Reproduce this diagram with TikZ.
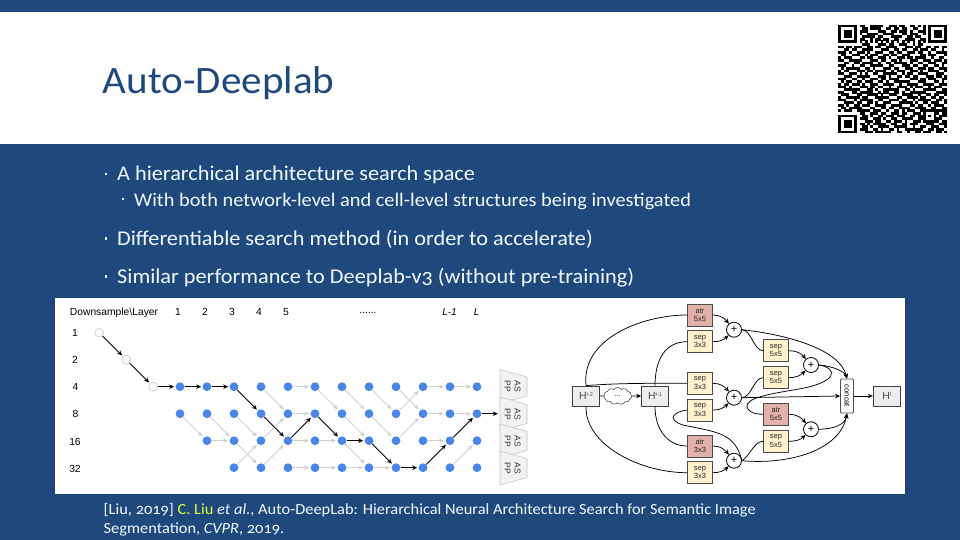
\documentclass[tikz,border=0pt]{standalone}
\usepackage{fontspec}
\usetikzlibrary{arrows.meta,shapes.symbols,shapes.geometric}
\setmainfont{Carlito}[Numbers=OldStyle,FakeStretch=1.06]
\newfontfamily\dgfont{Liberation Sans}
\definecolor{navy}{RGB}{31,73,125}
\definecolor{ptitle}{RGB}{31,73,125}
\definecolor{dotblue}{RGB}{74,134,232}
\definecolor{graylink}{RGB}{208,208,208}
\definecolor{boxpink}{RGB}{226,178,170}
\definecolor{boxyel}{RGB}{255,242,204}
\definecolor{boxgray}{RGB}{238,238,238}
\definecolor{paleT}{RGB}{240,248,255}
\definecolor{citeY}{RGB}{221,255,60}
\newcount\qrx
\def\qrparse#1{\ifx#1\relax\let\qrnext\relax\else\ifx#11\fill[black] ({838.3+2.65*\the\qrx},{24.6+2.65*\qry}) rectangle ({838.3+2.65*\the\qrx+2.7},{24.6+2.65*\qry+2.7});\fi\advance\qrx by 1\let\qrnext\qrparse\fi\qrnext}
\tikzset{
  x=1pt,y=-1pt,
  bodytext/.style={anchor=base west,text=paleT,inner sep=0pt,font=\fontsize{21}{24}\selectfont},
  subtext/.style={anchor=base west,text=paleT,inner sep=0pt,font=\fontsize{19.2}{22}\selectfont},
  citetext/.style={anchor=base west,inner sep=0pt,text=paleT,font=\fontsize{15.45}{17}\selectfont},
  bulletdot/.style={fill=paleT,inner sep=0pt,minimum size=#1},
  gridlbl/.style={anchor=base,font=\dgfont\fontsize{10.3}{11}\selectfont,text=black,inner sep=0pt},
  griditalic/.style={anchor=base,font=\dgfont\itshape\fontsize{10}{11}\selectfont,text=black,inner sep=0pt},
  bluedot/.style={circle,fill=dotblue,inner sep=0pt,minimum size=8.8pt},
  whitedot/.style={circle,fill=white!95!gray,draw=black!20,line width=.6pt,inner sep=0pt,minimum size=9pt},
  glink/.style={draw=graylink,line width=.8pt,shorten >=1.5pt,-{Stealth[length=5pt,width=4.5pt]}},
  klink/.style={draw=black,line width=.9pt,shorten >=1.2pt,-{Stealth[length=5pt,width=4.5pt]}},
  aspp/.style={draw=black!22,fill=black!5,line width=.6pt,line join=round},
  asppt/.style={inner sep=0pt,font=\dgfont\fontsize{8.5}{9}\selectfont,text=black!80},
  opbox/.style={draw=black!70,line width=.9pt,minimum width=25pt,minimum height=22pt,inner sep=0pt,align=center,font=\dgfont\fontsize{7.5}{8.6}\selectfont,text=black!85},
  hbox/.style={draw=black!75,fill=boxgray,line width=.8pt,minimum width=27pt,minimum height=20pt,inner sep=0pt,font=\dgfont\fontsize{10.5}{11}\selectfont,text=black!70},
  plusn/.style={circle,draw=black,fill=white,line width=.8pt,minimum size=15pt,inner sep=0pt,font=\dgfont\fontsize{11}{11}\selectfont},
  curve/.style={draw=black,line width=.75pt},
  arr/.style={curve,-{Stealth[length=5pt,width=4.5pt]}},
}
\begin{document}
\begin{tikzpicture}
\useasboundingbox (0,0) rectangle (960,540);
% bands
\fill[navy] (0,0) rectangle (960,540);
\fill[white] (0,12.5) rectangle (960,144);
\fill[white] (55,298) rectangle (905,493.5);
% title and text
\node[anchor=base west,inner sep=0pt,text=ptitle,font=\fontsize{38.8}{40}\selectfont] (title) at (102.5,93.5) {Auto-Deeplab};
\node[bulletdot=2.6pt] (dot1) at (106,174) {};
\node[bodytext] (t1) at (117,181) {A hierarchical architecture search space};
\node[bulletdot=2pt] (dot2) at (122.7,199) {};
\node[subtext] (t2) at (134,206.5) {With both network-level and cell-level structures being investigated};
\node[bulletdot=2.6pt] (dot3) at (106,238.5) {};
\node[bodytext] (t3) at (117,245.5) {Differentiable search method (in order to accelerate)};
\node[bulletdot=2.6pt] (dot4) at (106,276.5) {};
\node[bodytext] (t4) at (117,283.5) {Similar performance to Deeplab-v3 (without pre-training)};
\node[citetext] (cite1) at (103.5,514.5) {[Liu, 2019] \textcolor{citeY}{C. Liu} \textit{et al.}, Auto-DeepLab: Hierarchical Neural Architecture Search for Semantic Image};
\node[citetext] (cite2) at (103.5,533.5) {Segmentation, \textit{CVPR}, 2019.};
% QR
\foreach \qrrow [count=\qrj from 0] in {
1111111 0 11001 11110 01110 11001 10101 0 1111111,
1000001 0 01101 11100 11011 01100 11001 0 1000001,
1011101 0 11100 00111 00110 11101 00111 0 1011101,
1011101 0 10011 11001 11100 01101 11001 0 1011101,
1011101 0 01111 10110 00111 10011 01100 0 1011101,
1000001 0 11001 01101 10011 00111 10011 0 1000001,
1111111 0 10101 01010 10101 01010 10101 0 1111111,
0000000 0 01110 00111 01100 11100 10110 0 0000000,
11011 01110 01101 10011 11000 11101 10011 01101 1,
00110 11001 11100 01110 01101 10011 01110 11001 0,
11101 00111 01001 11001 10110 01110 11001 00111 1,
01100 11100 10111 00110 11001 11000 01101 11000 1,
10111 00011 01100 11101 00111 01101 11100 10011 0,
11001 11110 00111 01100 11010 00111 00111 01110 1,
00110 01101 11100 10011 01111 10100 11001 11001 1,
11100 10011 00111 11001 10001 11011 00110 01101 0,
01011 11100 11010 00111 01100 11100 11101 10011 1,
10110 00111 01101 11100 10111 00111 01001 11100 1,
11001 11010 10011 00111 11001 01100 11110 00111 0,
00111 00111 11000 11101 00110 11011 00011 10110 1,
11100 11001 00111 01101 11100 00111 01101 11001 1,
01011 00110 11100 11010 01111 11000 11100 01101 0,
10110 11101 00111 00111 10010 01111 00111 10011 1,
11101 00011 10110 11001 00111 10101 11001 01110 0,
00111 11100 01101 00111 11100 11010 00111 11001 1,
11000 11011 11100 10110 01101 00111 11100 00111 1,
01110 00110 01111 01001 11001 11100 10011 01100 1,
10011 11101 10001 11110 00110 01111 01100 11011 0,
11100 01011 11100 11001 11101 10010 11111 00110 1,
00111 10110 01101 00111 00011 11101 00110 11100 1,
11010 01101 11001 11100 11110 00110 11001 01111 0,
01101 11110 00110 01101 10011 11001 11100 11001 1,
10111 00111 11011 10010 01101 01110 01111 00111 1,
0000000 0 11001 11011 00111 01100 11100 10011 011,
1111111 0 01101 00110 11101 11001 10111 00110 111,
1000001 0 11100 11101 00110 01111 00110 11101 100,
1011101 0 00111 01100 11011 10100 11101 10011 011,
1011101 0 11010 11111 00110 01101 11000 11100 111,
1011101 0 01101 00111 10011 11100 10011 00111 001,
1000001 0 11100 11010 01101 00111 11110 01101 110,
1111111 0 00111 01111 11001 10010 01101 11001 101}
{ \global\qrx=0 \edef\qry{\qrj}\expandafter\qrparse\qrrow\relax }
\fill[black] ({838.3+2.65*32},{24.6+2.65*32}) rectangle +(13.25,13.25);
\fill[white] ({838.3+2.65*33},{24.6+2.65*33}) rectangle +(7.95,7.95);
\fill[black] ({838.3+2.65*34},{24.6+2.65*34}) rectangle +(2.65,2.65);
% grid header
\node[gridlbl] (hd) at (114,315.2) {Downsample\textbackslash Layer};
\foreach \n/\xx in {1/178,2/205,3/232,4/259,5/286}
  \node[gridlbl] (hc\n) at (\xx,315.2) {\n};
\node[gridlbl] (hdots) at (368,313) {......};
\node[griditalic] (hl1) at (449.5,315.2) {L-1};
\node[griditalic] (hl) at (476.7,315.2) {L};
\foreach \n/\yy/\xx in {1/336.5/75,2/363.5/75,4/390.5/75.5,8/417.5/75.5,16/445/75,32/472/75}
  \node[gridlbl] (rl\n) at (\xx,\yy) {\n};
% grid nodes
\node[whitedot] (w1) at (99.3,332.7) {};
\node[whitedot] (w2) at (126.3,359.7) {};
\node[whitedot] (w3) at (153.3,386.7) {};
\foreach \c in {1,...,12} {
  \node[bluedot] (a\c) at ({180+27*(\c-1)},386.7) {};
  \node[bluedot] (b\c) at ({180+27*(\c-1)},413.7) {};
}
\foreach \c in {2,...,12} \node[bluedot] (c\c) at ({180+27*(\c-1)},440.7) {};
\foreach \c in {3,...,12} \node[bluedot] (d\c) at ({180+27*(\c-1)},467.7) {};
% gray links
\foreach \p/\q in {a4/b5,a5/a6,a6/b7,a7/b8,a8/b9,a9/b10,b9/a10,a10/a11,a11/a12,b10/b11,b11/b12,
  b1/c2,b2/c3,b3/c4,c4/b5,b5/b6,b7/c8,b8/c9,c9/b10,c2/c3,c3/d4,d3/c4,d4/c5,c5/c6,c6/c7,c7/d8,c10/c11,d11/c12,
  d5/d6,d6/d7,d7/d8,d8/d9}
  \draw[glink] (\p) -- (\q);
% black path
\foreach \p/\q in {w1/w2,w2/w3,w3/a1,a1/a2,a2/a3,a3/b4,b4/c5,c5/b6,b6/c7,c7/c8,c8/d9,d9/d10,d10/c11,c11/b12}
  \draw[klink] (\p) -- (\q);
% ASPP heads
\foreach \k/\yc in {1/386.5,2/414,3/441,4/468}{
  \draw[aspp] (500,\yc-17) -- (527,\yc-9.5) -- (527,\yc+9.5) -- (500,\yc+17) -- cycle;
  \node[asppt] (asA\k) at (517.5,\yc) {\rotatebox{-90}{AS}};
  \node[asppt] (asB\k) at (507.5,\yc) {\rotatebox{-90}{PP}};
}
\coordinate (aspp2) at (499,413.7);
\draw[klink] (b12) -- (aspp2);
% right diagram
\node[hbox] (h2) at (586,396) {H\raisebox{3pt}{\fontsize{5.5}{5}\selectfont l-2}};
\node[hbox] (h1) at (655,396) {H\raisebox{3pt}{\fontsize{5.5}{5}\selectfont l-1}};
\node[hbox] (h0) at (886.7,396) {H\raisebox{3pt}{\fontsize{5.5}{5}\selectfont l}};
\node[cloud,cloud puffs=11,cloud puff arc=110,aspect=2,draw=black!70,fill=white,line width=.6pt,minimum width=28pt,minimum height=17pt,inner sep=0pt,font=\dgfont\fontsize{7}{8}\selectfont] (cl) at (617.7,396) {...};
\node[opbox,fill=boxpink] (o1) at (700,315) {atr\\5x5};
\node[opbox,fill=boxyel] (o2) at (700,341.7) {sep\\3x3};
\node[opbox,fill=boxyel] (o3) at (700,383.3) {sep\\3x3};
\node[opbox,fill=boxyel] (o4) at (700,410) {sep\\3x3};
\node[opbox,fill=boxpink] (o5) at (700,446) {atr\\3x3};
\node[opbox,fill=boxyel] (o6) at (700,472.7) {sep\\3x3};
\node[opbox,fill=boxyel] (q1) at (776,350.7) {sep\\5x5};
\node[opbox,fill=boxyel] (q2) at (776,377.7) {sep\\5x5};
\node[opbox,fill=boxpink] (q3) at (776,414.3) {atr\\5x5};
\node[opbox,fill=boxyel] (q4) at (776,441.3) {sep\\5x5};
\node[plusn] (p1) at (734,329.7) {+};
\node[plusn] (p2) at (734,397.7) {+};
\node[plusn] (p3) at (734,460.7) {+};
\node[plusn] (p4) at (811,365) {+};
\node[plusn] (p5) at (811,429.3) {+};
\node[draw=black!70,fill=white,rounded corners=1pt,line width=.9pt,minimum width=13pt,minimum height=34pt,inner sep=0pt,font=\dgfont\fontsize{7.5}{8}\selectfont] (cc) at (847,396) {\rotatebox{-90}{concat}};
% inputs
\draw[curve] (h2.north) .. controls (581,338) and (643,315) .. (o1.west);
\draw[curve] (h2.north) .. controls (620,383) and (650,383.3) .. (o3.west);
\draw[curve] (h2.south) .. controls (585,445) and (640,472.7) .. (o6.west);
\draw[curve] (h1.north) .. controls (655,360) and (665,341.7) .. (o2.west);
\draw[curve] (h1.south) .. controls (655,430) and (668,446) .. (o5.west);
\draw[curve] (o4.west) .. controls (672,412) and (667,420) .. (683,425) .. controls (715,432) and (735,432) .. (p3.east);
\draw[curve] (h2.east) -- (cl.west);
\draw[arr] (cl.east) -- (h1.west);
% op -> plus
\foreach \o/\p in {o1/p1,o3/p2,o5/p3,q1/p4,q3/p5}
  \draw[arr] (\o.east) to[out=0,in=130] (\p.130);
\foreach \o/\p in {o2/p1,o4/p2,o6/p3,q2/p4,q4/p5}
  \draw[arr] (\o.east) to[out=0,in=225] (\p.225);
% plus outputs
\draw[curve] (p1.east) to[out=0,in=180,looseness=.8] (q1.west);
\draw[curve] (p2.east) to[out=0,in=180,looseness=.8] (q2.west);
\draw[curve] (p3.east) to[out=30,in=180,looseness=.8] (q4.west);
\draw[arr] (p1.east) .. controls (790,335) and (840,350) .. (cc.north);
\draw[arr] (p4.east) .. controls (833,366) and (845,372) .. (cc.north);
\draw[arr] (p2.east) -- (cc.west);
\draw[arr] (p5.east) .. controls (833,429) and (845,425) .. (cc.south);
\draw[arr] (p3.east) .. controls (790,465) and (840,450) .. (cc.south);
\draw[curve] (p4.east) .. controls (838,368) and (840,383) .. (793,390) .. controls (770,394) and (745,398) .. (747,407) .. controls (748,412) and (755,414.3) .. (q3.west);
\draw[arr] (cc.east) -- (h0.west);
\end{tikzpicture}
\end{document}
